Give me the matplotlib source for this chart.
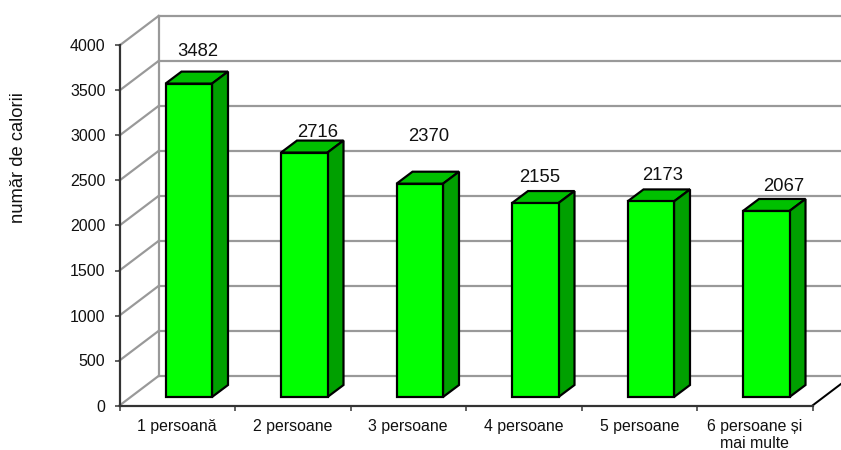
import matplotlib
matplotlib.use("Agg")
import matplotlib.pyplot as plt
from matplotlib.patches import Polygon

plt.rcParams['font.family'] = ['Liberation Sans', 'DejaVu Sans']

categories = ["1 persoană", "2 persoane", "3 persoane", "4 persoane", "5 persoane", "6 persoane și\nmai multe"]
values = [3482, 2716, 2370, 2155, 2173, 2067]
y_ticks = [0, 500, 1000, 1500, 2000, 2500, 3000, 3500, 4000]

# label offsets from the top of each bar, in pixels
label_dx = [9, 13, 9, 4, 12, 17]
label_dy = [32, 20, 47, 26, 26, 24]

W, H = 841, 450
px = 72 / 100  # points per pixel

fig = plt.figure(figsize=(W / 100, H / 100), dpi=100)
# axes box is the front plane of the fake 3D chart
ax = fig.add_axes([119.5 / W, 1 - 405.5 / H, 693 / W, 360 / H])
ax.set_xlim(0, 6)
ax.set_ylim(0, 4000)

xu = 693 / 6  # pixels per category
yu = 360 / 4000  # pixels per unit

# depth of the walls and of the bars, in data units
wall_dx, wall_dy = 39 / xu, 29.5 / yu
bar_dx, bar_dy = 16 / xu, 12 / yu
bar_shift_x, bar_shift_y = 11.5 / xu, 8.5 / yu
bar_w = 46.5 / xu

grid_c = "#999999"
grid_lw = 2.2 * px

# walls
for t in y_ticks:
    ax.plot([0, wall_dx], [t, t + wall_dy], color=grid_c, lw=grid_lw, clip_on=False, zorder=1)
    ax.plot([wall_dx, 6.4], [t + wall_dy, t + wall_dy], color=grid_c, lw=grid_lw, clip_on=False, zorder=1)
ax.plot([wall_dx, wall_dx], [wall_dy, 4000 + wall_dy], color=grid_c, lw=grid_lw, clip_on=False, zorder=1)

# right edge of the floor
ax.plot([6, 6 + wall_dx], [0, wall_dy], color="black", lw=2 * px, clip_on=False, zorder=2)

# bars
xs = [i + 0.5 + bar_shift_x for i in range(len(values))]
ax.bar(xs, values, width=bar_w, bottom=bar_shift_y, color="#00ff00", edgecolor="black",
       linewidth=2.2 * px, zorder=4, clip_on=False)
for x, v in zip(xs, values):
    left, right = x - bar_w / 2, x + bar_w / 2
    bottom, top = bar_shift_y, v + bar_shift_y
    ax.add_patch(Polygon([(left, top), (right, top), (right + bar_dx, top + bar_dy), (left + bar_dx, top + bar_dy)],
                         facecolor="#00c000", edgecolor="black", lw=2.2 * px, zorder=3, clip_on=False))
    ax.add_patch(Polygon([(right, bottom), (right + bar_dx, bottom + bar_dy), (right + bar_dx, top + bar_dy), (right, top)],
                         facecolor="#00a000", edgecolor="black", lw=2.2 * px, zorder=3, clip_on=False))

# value labels
for x, v, dx, dy in zip(xs, values, label_dx, label_dy):
    ax.annotate(str(v), (x, v + bar_shift_y), xytext=(dx * px, dy * px), textcoords="offset points",
                ha="center", va="center", fontsize=13.3, color="#111111", zorder=5)

# axes
for s in ["top", "right"]:
    ax.spines[s].set_visible(False)
for s in ["left", "bottom"]:
    ax.spines[s].set_linewidth(2.2 * px)
    ax.spines[s].set_color("#333333")
    ax.spines[s].set_zorder(6)
ax.patch.set_alpha(0)

ax.set_yticks(y_ticks)
ax.set_xticks(range(7))
ax.set_xticklabels([])
ax.set_xticks([i + 0.5 for i in range(6)], minor=True)
ax.set_xticklabels(categories, minor=True, fontsize=11.4, linespacing=1.2, color="#111111")
ax.tick_params(axis="x", which="minor", length=0, pad=9.5)
ax.tick_params(axis="x", which="major", length=5 * px, width=1.5 * px, color="#333333")
ax.tick_params(axis="y", length=5 * px, width=1.5 * px, color="#333333", labelsize=11.5, pad=6.5,
               labelcolor="#111111")

fig.text(19 / W, 1 - 158 / H, "număr de calorii", rotation=90, ha="center", va="center",
         fontsize=13.2, color="#111111")

fig.savefig("out.png", dpi=100)
